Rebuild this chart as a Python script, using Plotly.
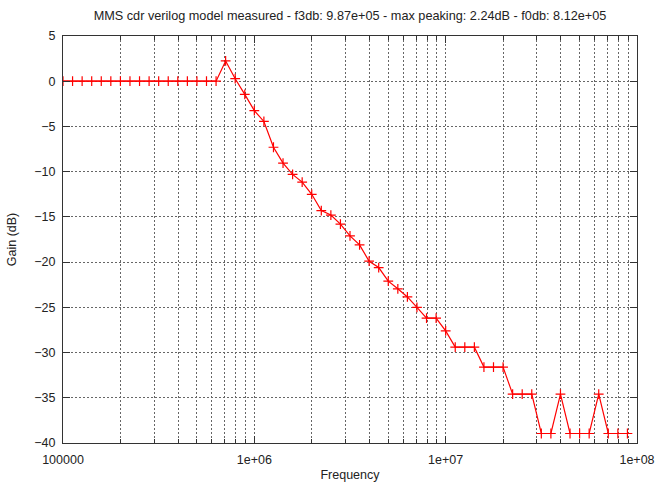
import numpy as np
import plotly.graph_objects as go

# frequencies: 20 points per decade starting at 1e5
exponents = [5 + 0.05 * k for k in range(60)]
freq = [10 ** e for e in exponents]

gain_db = [
    0, 0, 0, 0, 0, 0, 0, 0, 0, 0,
    0, 0, 0, 0, 0, 0, 0, 2.24, 0.28, -1.45,
    -3.25, -4.45, -7.3, -9.05, -10.3, -11.15, -12.5, -14.3, -14.8, -15.8,
    -17.1, -18.1, -19.9, -20.6, -22.1, -22.95, -23.85, -25.0, -26.2, -26.2,
    -27.6, -29.4, -29.4, -29.4, -31.6, -31.6, -31.6, -34.6, -34.6, -34.6,
    -38.95, -38.95, -34.6, -38.95, -38.95, -38.95, -34.6, -38.95, -38.95, -38.95,
]

x_major = [1e5, 1e6, 1e7, 1e8]
x_major_text = ["100000", "1e+06", "1e+07", "1e+08"]
x_minor = [m * 10 ** d for d in range(5, 8) for m in range(2, 10)]
y_ticks = [5, 0, -5, -10, -15, -20, -25, -30, -35, -40]

title = ("MMS cdr verilog model measured - f3db: 9.87e+05 - max peaking: 2.24dB"
         " - f0db: 8.12e+05")

fig = go.Figure()
fig.add_trace(go.Scatter(
    x=freq, y=gain_db, mode="lines+markers",
    line=dict(color="#ff0000", width=1.2),
    marker=dict(symbol="cross-thin", size=7,
                line=dict(color="#ff0000", width=1.2), color="#ff0000"),
    cliponaxis=True, showlegend=False,
))

font = dict(family="Liberation Sans, Arial, sans-serif", size=12.5, color="#222")
tfont = dict(family="Liberation Sans, Arial, sans-serif", size=12.7, color="#222")
gdash = "2px,2px"

fig.update_layout(
    width=655, height=483,
    margin=dict(l=63, r=18, t=36, b=40, autoexpand=False),
    paper_bgcolor="white", plot_bgcolor="white",
    font=font,
    title=dict(text=title, x=0.5, xref="paper", xanchor="center",
               y=1 - 16 / 483, yanchor="middle", font=tfont),
    xaxis=dict(
        type="log", range=[5, 8], automargin=False,
        tickvals=x_major, ticktext=x_major_text,
        showline=True, linecolor="#333", linewidth=1, mirror="allticks",
        ticks="inside", ticklen=7, tickcolor="#333",
        showgrid=True, gridcolor="#666", griddash=gdash, gridwidth=1,
        minor=dict(tickvals=x_minor, ticks="inside", ticklen=4,
                   tickcolor="#333", showgrid=True, gridcolor="#666",
                   griddash=gdash, gridwidth=1),
        ticklabelstandoff=5,
        title=dict(text="Frequency", font=font, standoff=4),
        zeroline=False, tickfont=font,
    ),
    yaxis=dict(
        range=[-40, 5], tickvals=y_ticks, automargin=False,
        showline=True, linecolor="#333", linewidth=1, mirror="allticks",
        ticks="inside", ticklen=7, tickcolor="#333",
        showgrid=True, gridcolor="#666", griddash=gdash, gridwidth=1,
        ticklabelstandoff=4,
        title=dict(text="Gain (dB)", font=font, standoff=14),
        zeroline=False, tickfont=font,
    ),
)

fig.write_html("out.html")
